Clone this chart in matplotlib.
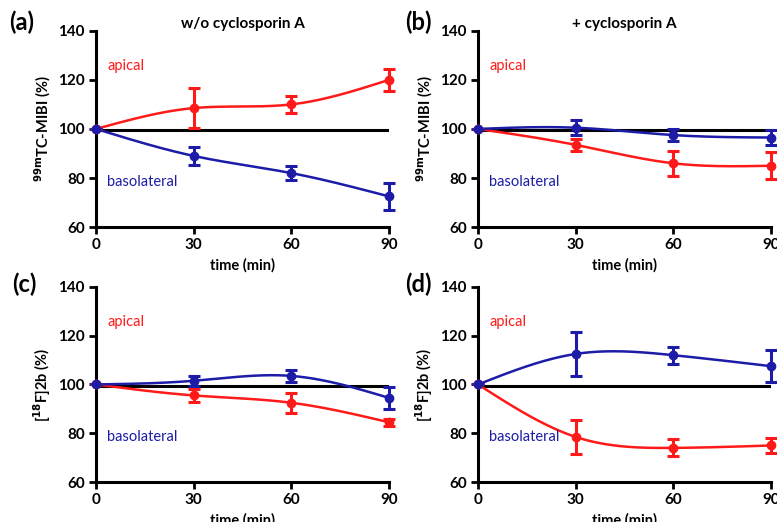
import numpy as np
import matplotlib.pyplot as plt

plt.rcParams['font.family'] = ['Lato', 'DejaVu Sans']

time_min = [0, 30, 60, 90]

# (a) 99mTc-MIBI, w/o cyclosporin A
a_red = [100, 108.5, 110, 120]
a_red_err = [0, 8, 3.5, 4.5]
a_blue = [100, 89, 82, 72.5]
a_blue_err = [0, 3.5, 3, 5.5]

# (b) 99mTc-MIBI, + cyclosporin A
b_red = [100, 93.5, 86, 85]
b_red_err = [0, 2.5, 5, 5.5]
b_blue = [100, 100.5, 97.5, 96.5]
b_blue_err = [0, 3, 2.5, 3]

# (c) [18F]2b, w/o cyclosporin A
c_red = [100, 95.5, 92.5, 84.5]
c_red_err = [0, 2.5, 4, 1.5]
c_blue = [100, 101.5, 103.5, 94.5]
c_blue_err = [0, 2, 2.5, 4.5]

# (d) [18F]2b, + cyclosporin A
d_red = [100, 78.5, 74, 75]
d_red_err = [0, 7, 3.5, 3]
d_blue = [100, 112.5, 112, 107.5]
d_blue_err = [0, 9, 3.5, 6.5]

RED = '#ff1a1a'
BLUE = '#1c1ca8'


def spline(x, y, n=200):
    # natural cubic spline through the points, for the smooth connector
    x = np.asarray(x, float)
    y = np.asarray(y, float)
    k = len(x)
    h = np.diff(x)
    A = np.zeros((k, k))
    r = np.zeros(k)
    A[0, 0] = A[-1, -1] = 1
    for i in range(1, k - 1):
        A[i, i - 1] = h[i - 1]
        A[i, i] = 2 * (h[i - 1] + h[i])
        A[i, i + 1] = h[i]
        r[i] = 6 * ((y[i + 1] - y[i]) / h[i] - (y[i] - y[i - 1]) / h[i - 1])
    M = np.linalg.solve(A, r)
    xs = np.linspace(x[0], x[-1], n)
    idx = np.clip(np.searchsorted(x, xs) - 1, 0, k - 2)
    x0, x1 = x[idx], x[idx + 1]
    hh = x1 - x0
    t0 = x1 - xs
    t1 = xs - x0
    ys = (M[idx] * t0 ** 3 / (6 * hh) + M[idx + 1] * t1 ** 3 / (6 * hh)
          + (y[idx] / hh - M[idx] * hh / 6) * t0
          + (y[idx + 1] / hh - M[idx + 1] * hh / 6) * t1)
    return xs, ys


fig = plt.figure(figsize=(7.77, 5.22), dpi=100)

panels = [
    ('(a)', 'w/o cyclosporin A', r'$^{\mathbf{99m}}$TC-MIBI (%)', a_red, a_red_err, a_blue, a_blue_err,
     [0.1236, 0.565, 0.377, 0.376], (0.012, 0.957)),
    ('(b)', '+ cyclosporin A', r'$^{\mathbf{99m}}$TC-MIBI (%)', b_red, b_red_err, b_blue, b_blue_err,
     [0.6152, 0.565, 0.377, 0.376], (0.521, 0.957)),
    ('(c)', '', r'[$^{\mathbf{18}}$F]2b (%)', c_red, c_red_err, c_blue, c_blue_err,
     [0.1236, 0.0765, 0.377, 0.374], (0.015, 0.455)),
    ('(d)', '', r'[$^{\mathbf{18}}$F]2b (%)', d_red, d_red_err, d_blue, d_blue_err,
     [0.6152, 0.0765, 0.377, 0.374], (0.521, 0.455)),
]

for tag, title, ylab, red, red_err, blue, blue_err, pos, tagpos in panels:
    ax = fig.add_axes(pos)
    ax.set_xlim(0, 90)
    ax.set_ylim(60, 140)
    ax.plot([0, 90], [99.5, 99.5], color='black', lw=2.2, zorder=2)
    for vals, errs, col in [(red, red_err, RED), (blue, blue_err, BLUE)]:
        xs, ys = spline(time_min, vals)
        ax.plot(xs, ys, color=col, lw=1.8, zorder=3, clip_on=False)
        ax.errorbar(time_min, vals, yerr=errs, fmt='o', color=col, ms=6,
                    elinewidth=2.2, capsize=4, capthick=2.2, zorder=4, clip_on=False)
    ax.text(3.4, 125.5, 'apical', color=RED, fontsize=10.5, va='center')
    ax.text(3.4, 78.5, 'basolateral', color=BLUE, fontsize=10.5, va='center')

    ax.set_xticks(time_min)
    ax.set_yticks([60, 80, 100, 120, 140])
    for s in ['top', 'right']:
        ax.spines[s].set_visible(False)
    for s in ['left', 'bottom']:
        ax.spines[s].set_linewidth(2.2)
    ax.tick_params(width=2, length=5, labelsize=11, pad=3)
    for lbl in ax.get_xticklabels() + ax.get_yticklabels():
        lbl.set_fontweight('bold')
    ax.set_xlabel('time (min)', fontsize=10.5, fontweight='bold', labelpad=4)
    ax.set_ylabel(ylab, fontsize=10.5, fontweight='bold', labelpad=4)
    if title:
        ax.set_title(title, fontsize=11, fontweight='bold', pad=2)
    fig.text(tagpos[0], tagpos[1], tag, fontsize=17, fontweight='bold',
             va='center', ha='left')

fig.savefig('out.png', dpi=100)
